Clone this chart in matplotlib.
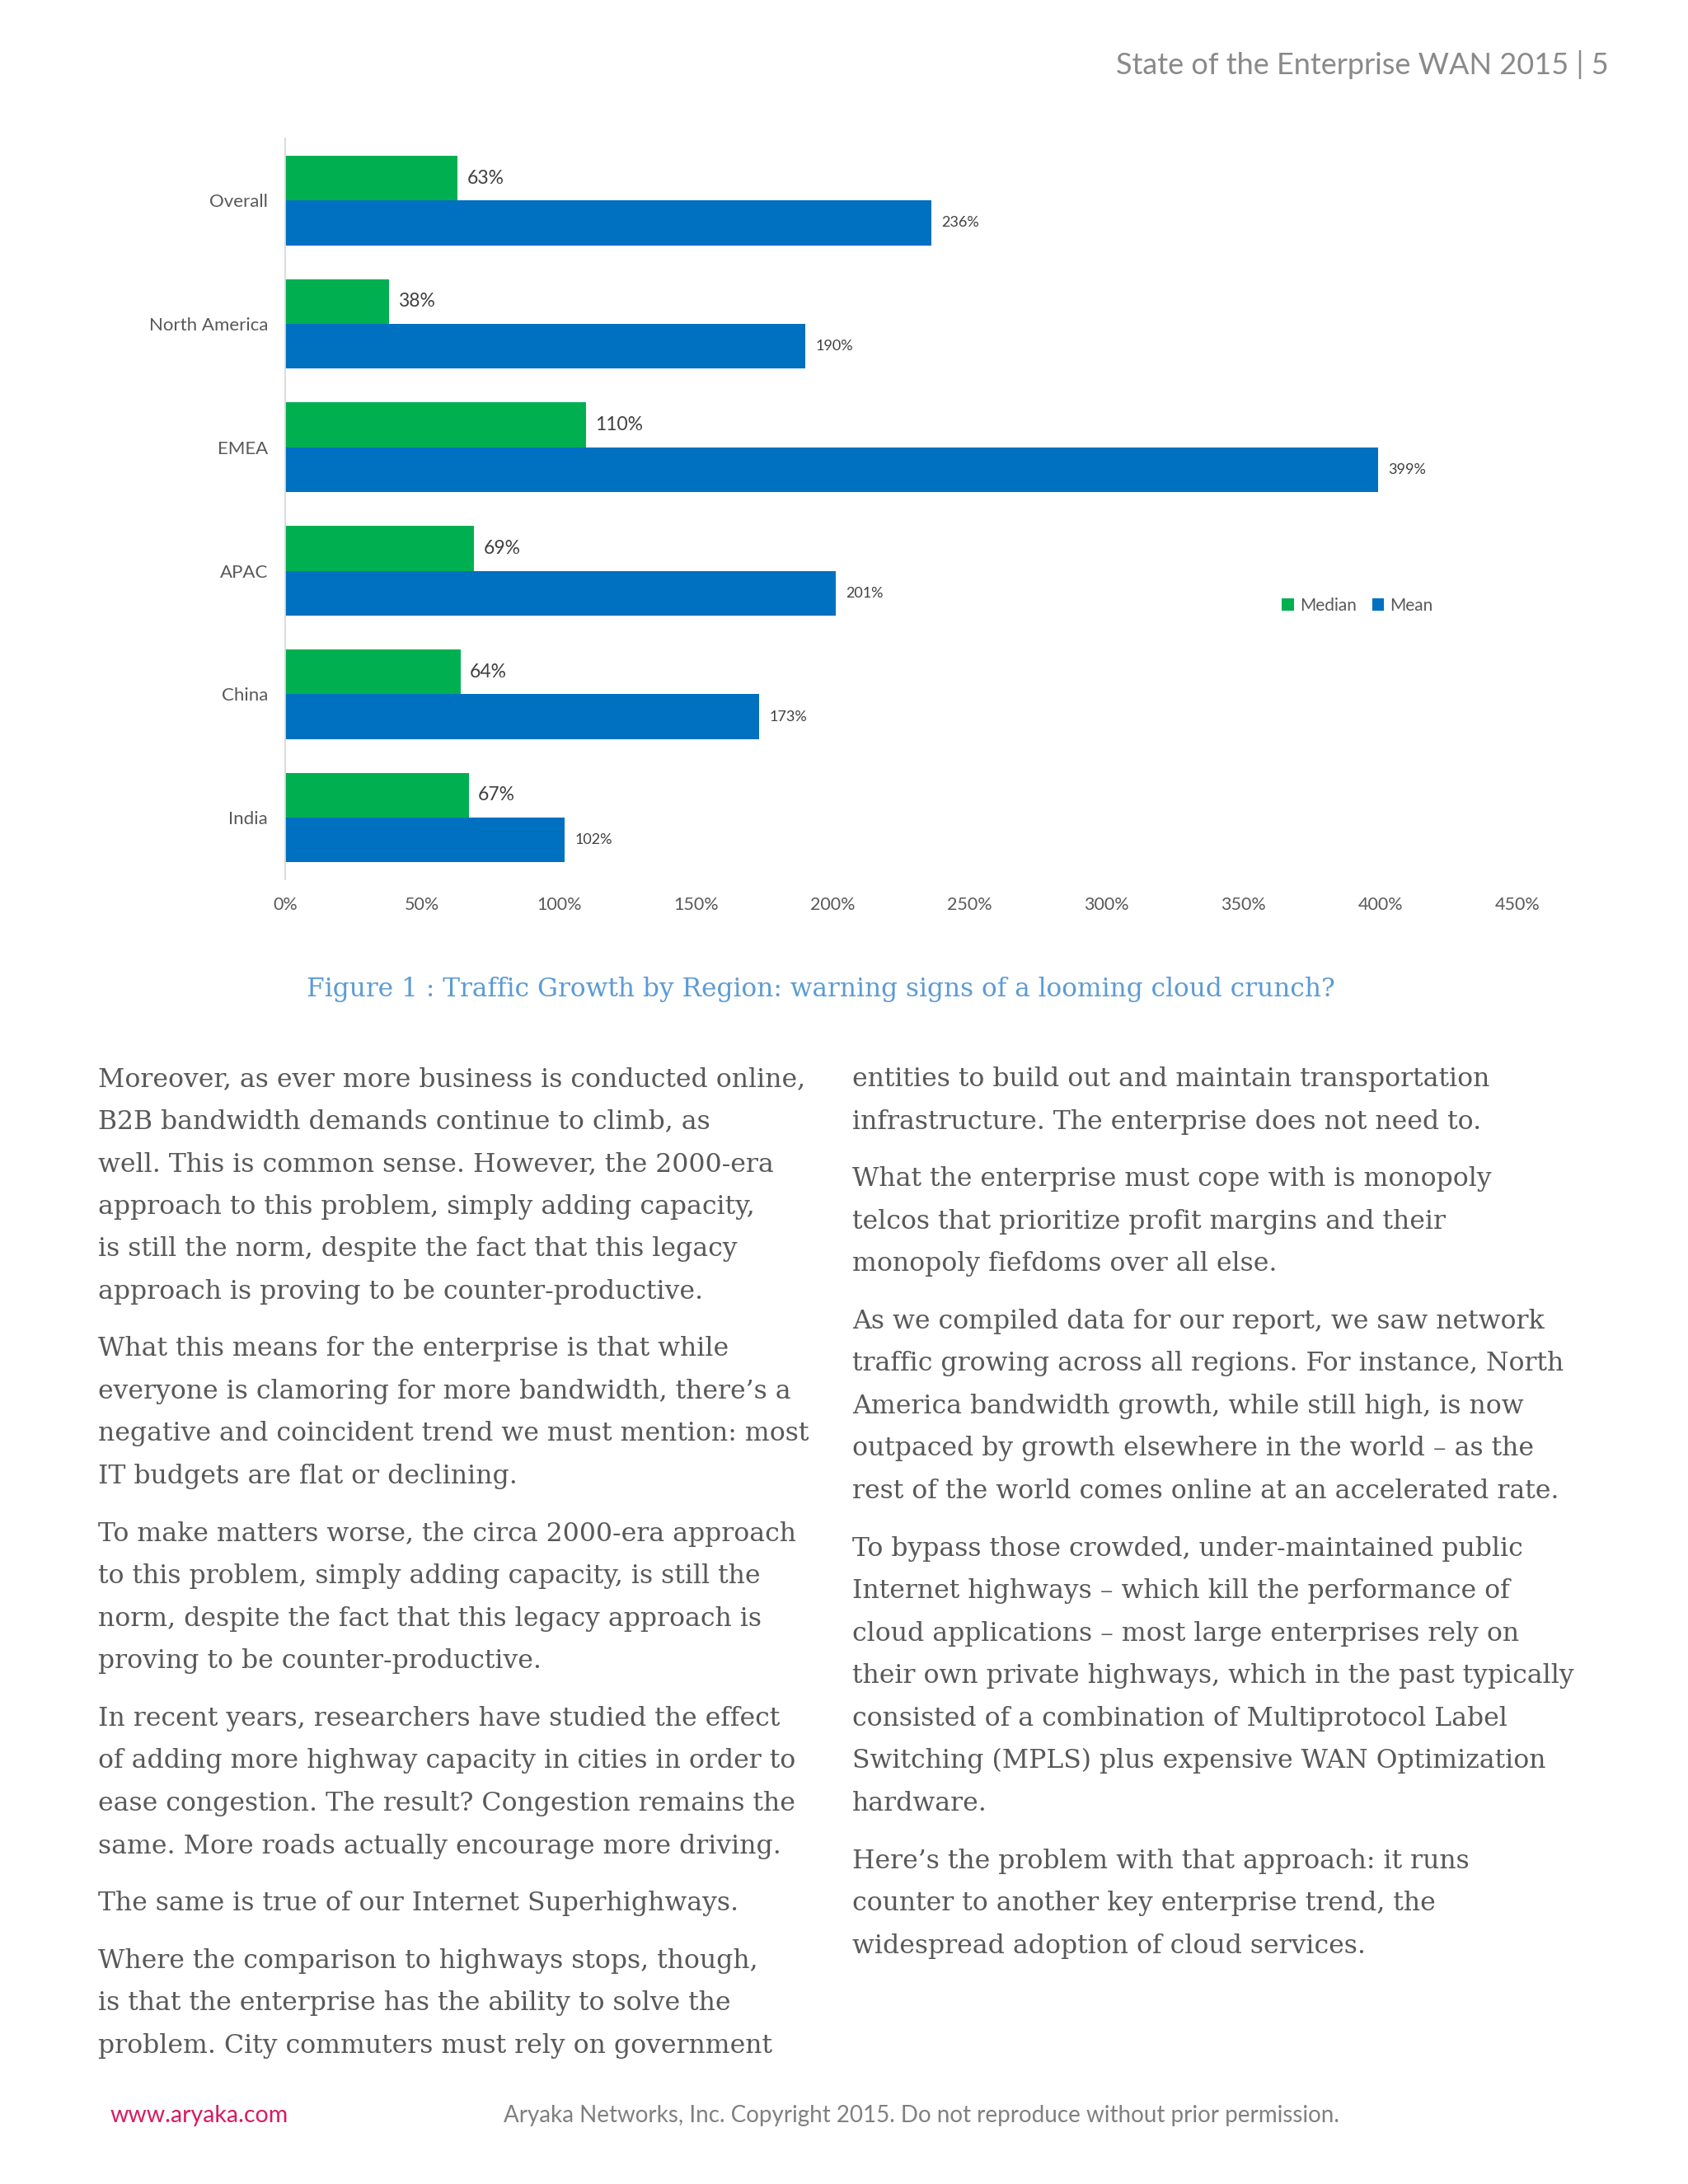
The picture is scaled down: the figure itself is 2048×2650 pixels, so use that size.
import matplotlib
matplotlib.use("Agg")
import matplotlib.pyplot as plt
from matplotlib.patches import Patch

# ---------------- data ----------------
regions = ["Overall", "North America", "EMEA", "APAC", "China", "India"]
median_vals = [63, 38, 110, 69, 64, 67]
mean_vals = [236, 190, 399, 201, 173, 102]
xtick_vals = [0, 50, 100, 150, 200, 250, 300, 350, 400, 450]
xtick_labels = ["0%", "50%", "100%", "150%", "200%", "250%", "300%", "350%", "400%", "450%"]
series_names = ["Median", "Mean"]

header_text = "State of the Enterprise WAN 2015 | 5"
caption_text = "Figure 1 : Traffic Growth by Region: warning signs of a looming cloud crunch?"
footer_url = "www.aryaka.com"
footer_copy = "Aryaka Networks, Inc. Copyright 2015. Do not reproduce without prior permission."

left_paras = [
    ["Moreover, as ever more business is conducted online,",
     "B2B bandwidth demands continue to climb, as",
     "well. This is common sense. However, the 2000-era",
     "approach to this problem, simply adding capacity,",
     "is still the norm, despite the fact that this legacy",
     "approach is proving to be counter-productive."],
    ["What this means for the enterprise is that while",
     "everyone is clamoring for more bandwidth, there\u2019s a",
     "negative and coincident trend we must mention: most",
     "IT budgets are flat or declining."],
    ["To make matters worse, the circa 2000-era approach",
     "to this problem, simply adding capacity, is still the",
     "norm, despite the fact that this legacy approach is",
     "proving to be counter-productive."],
    ["In recent years, researchers have studied the effect",
     "of adding more highway capacity in cities in order to",
     "ease congestion. The result? Congestion remains the",
     "same. More roads actually encourage more driving."],
    ["The same is true of our Internet Superhighways."],
    ["Where the comparison to highways stops, though,",
     "is that the enterprise has the ability to solve the",
     "problem. City commuters must rely on government"],
]
right_paras = [
    ["entities to build out and maintain transportation",
     "infrastructure. The enterprise does not need to."],
    ["What the enterprise must cope with is monopoly",
     "telcos that prioritize profit margins and their",
     "monopoly fiefdoms over all else."],
    ["As we compiled data for our report, we saw network",
     "traffic growing across all regions. For instance, North",
     "America bandwidth growth, while still high, is now",
     "outpaced by growth elsewhere in the world \u2013 as the",
     "rest of the world comes online at an accelerated rate."],
    ["To bypass those crowded, under-maintained public",
     "Internet highways \u2013 which kill the performance of",
     "cloud applications \u2013 most large enterprises rely on",
     "their own private highways, which in the past typically",
     "consisted of a combination of Multiprotocol Label",
     "Switching (MPLS) plus expensive WAN Optimization",
     "hardware."],
    ["Here\u2019s the problem with that approach: it runs",
     "counter to another key enterprise trend, the",
     "widespread adoption of cloud services."],
]

# ---------------- style ----------------
GREEN = "#00B050"
BLUE = "#0070C0"
LABEL = "#595959"
BODY = "#595959"
SANS = ["Lato", "DejaVu Sans"]
SERIF = ["DejaVu Serif"]

W, H = 2048, 2650
fig = plt.figure(figsize=(W / 100, H / 100), dpi=100)
fig.patch.set_facecolor("white")

ax = fig.add_axes([346 / W, 1 - 1067 / H, 1495 / W, 898.6 / H])
ypos = list(range(len(regions)))
bh = 0.363
b1 = ax.barh([y - bh / 2 for y in ypos], median_vals, height=bh, color=GREEN, label=series_names[0])
b2 = ax.barh([y + bh / 2 for y in ypos], mean_vals, height=bh, color=BLUE, label=series_names[1])
ax.bar_label(b1, labels=[f"{v}%" for v in median_vals], padding=8, fontsize=16.5,
             color="#404040", family=SANS)
ax.bar_label(b2, labels=[f"{v}%" for v in mean_vals], padding=9, fontsize=13,
             color="#404040", family=SANS)

ax.set_xlim(0, 450)
ax.set_ylim(5.5, -0.5)
ax.set_xticks(xtick_vals)
ax.set_xticklabels(xtick_labels, family=SANS, fontsize=15.5, color=LABEL)
ax.set_yticks(ypos)
ax.set_yticklabels(regions, family=SANS, fontsize=16, color=LABEL)
ax.tick_params(axis="both", length=0)
ax.tick_params(axis="x", pad=15)
ax.tick_params(axis="y", pad=15)
for s in ["top", "right", "bottom"]:
    ax.spines[s].set_visible(False)
ax.spines["left"].set_color("#D9D9D9")
ax.spines["left"].set_linewidth(1.3)

handles = [Patch(facecolor=GREEN, edgecolor="none"), Patch(facecolor=BLUE, edgecolor="none")]
fig.legend(handles, series_names, loc="center", bbox_to_anchor=(1647 / W, 1 - 735 / H),
           ncol=2, frameon=False, handlelength=0.7, handleheight=0.7, handletextpad=0.35,
           columnspacing=0.9, prop={"family": SANS, "size": 15}, labelcolor=LABEL)

# header
fig.text(1952 / W, 1 - 79 / H, header_text, ha="right", va="center", family=SANS,
         fontsize=26, color="#8A8A8A")

# caption
fig.text(996 / W, 1 - 1200 / H, caption_text, ha="center", va="center", family=SERIF,
         fontsize=22.5, color="#5B9BD5")

# body text
LINE = 51.55
PARA = 69.6
def draw_column(paras, x):
    y = 1318.0
    first = True
    for p in paras:
        for i, line in enumerate(p):
            if not first:
                y += PARA if i == 0 else LINE
            first = False
            fig.text(x / W, 1 - y / H, line, ha="left", va="baseline", family=SERIF,
                     fontsize=22.7, color=BODY)

draw_column(left_paras, 119)
draw_column(right_paras, 1034)

# footer
fig.text(134 / W, 1 - 2567 / H, footer_url, ha="left", va="center", family=SANS,
         fontsize=20.5, color="#D81B60")
fig.text(1118 / W, 1 - 2567 / H, footer_copy, ha="center", va="center", family=SANS,
         fontsize=20, color="#808080")

fig.savefig("out.png", dpi=100, facecolor="white")
